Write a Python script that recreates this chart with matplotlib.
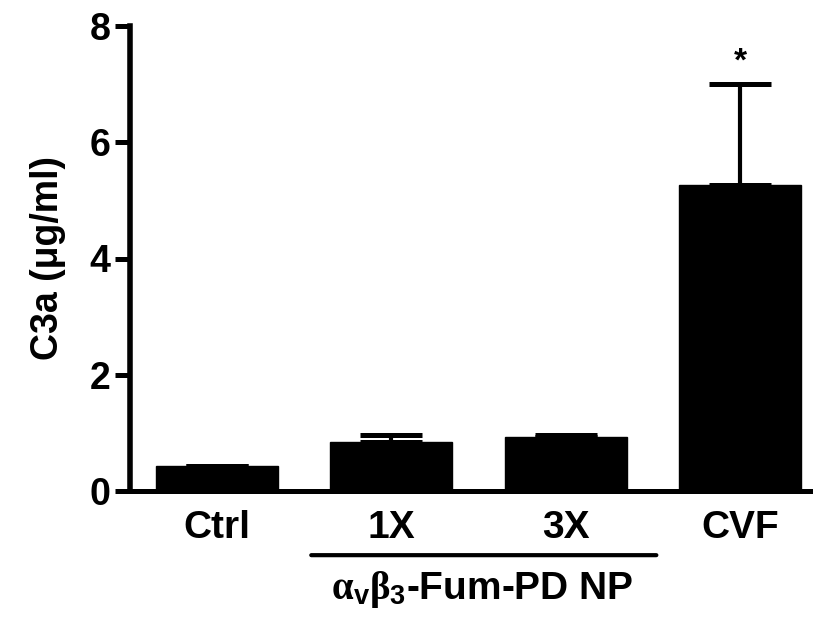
import numpy as np
import matplotlib.pyplot as plt

plt.rcParams['font.family'] = ['Liberation Sans', 'DejaVu Sans']
plt.rcParams['font.weight'] = 'bold'
plt.rcParams['mathtext.fontset'] = 'custom'
plt.rcParams['mathtext.rm'] = 'Liberation Serif'
plt.rcParams['mathtext.it'] = 'Liberation Serif:italic'
plt.rcParams['mathtext.bf'] = 'Liberation Sans:bold'

# data
groups = ['Ctrl', '1X', '3X', 'CVF']
c3a = [0.43, 0.84, 0.93, 5.27]
c3a_err = [0.0, 0.12, 0.04, 1.73]
y_ticks = [0, 2, 4, 6, 8]

fig = plt.figure(figsize=(8.19, 6.25), dpi=100)
ax = fig.add_axes([0.1587, 0.2144, 0.83, 0.744])

x = np.arange(len(groups))
ax.bar(x, c3a, width=0.70, color='black', edgecolor='black', zorder=2)
# error bars only upward
ax.errorbar(x, c3a, yerr=[np.zeros(len(c3a)), c3a_err], fmt='none',
            ecolor='black', elinewidth=3, capsize=22, capthick=3.6, zorder=1)

ax.set_xlim(-0.50, 3.40)
ax.set_ylim(0, 8)
ax.set_yticks(y_ticks)
ax.set_xticks(x)
ax.set_xticklabels(groups)
ax.tick_params(axis='y', labelsize=27, width=3.6, length=11, pad=3)
ax.tick_params(axis='x', labelsize=28, length=0, pad=14)
for lab in ax.get_yticklabels() + ax.get_xticklabels():
    lab.set_fontweight('bold')

for s in ['top', 'right']:
    ax.spines[s].set_visible(False)
ax.spines['left'].set_linewidth(4)
ax.spines['bottom'].set_linewidth(3.6)
ax.spines['bottom'].set_zorder(3)

ax.set_ylabel(u'C3a (\u03bcg/ml)', fontsize=27, fontweight='bold', labelpad=17)

# significance star
ax.text(3, c3a[3] + c3a_err[3] + 0.38, '*', ha='center', va='center',
        fontsize=24, fontweight='bold')

# group bracket under 1X and 3X
ax.annotate('', xy=(0.54, -0.138), xycoords=('data', 'axes fraction'),
            xytext=(2.52, -0.138), textcoords=('data', 'axes fraction'),
            arrowprops=dict(arrowstyle='-', lw=3, color='black',
                            shrinkA=0, shrinkB=0),
            annotation_clip=False)
ax.text(1.52, -0.212, r'$\mathrm{\alpha}_{\mathbf{v}}\mathrm{\beta}_{\mathbf{3}}$-Fum-PD NP',
        transform=ax.get_xaxis_transform(), ha='center', va='center',
        fontsize=28, fontweight='bold')

plt.savefig('out.png', dpi=100)
